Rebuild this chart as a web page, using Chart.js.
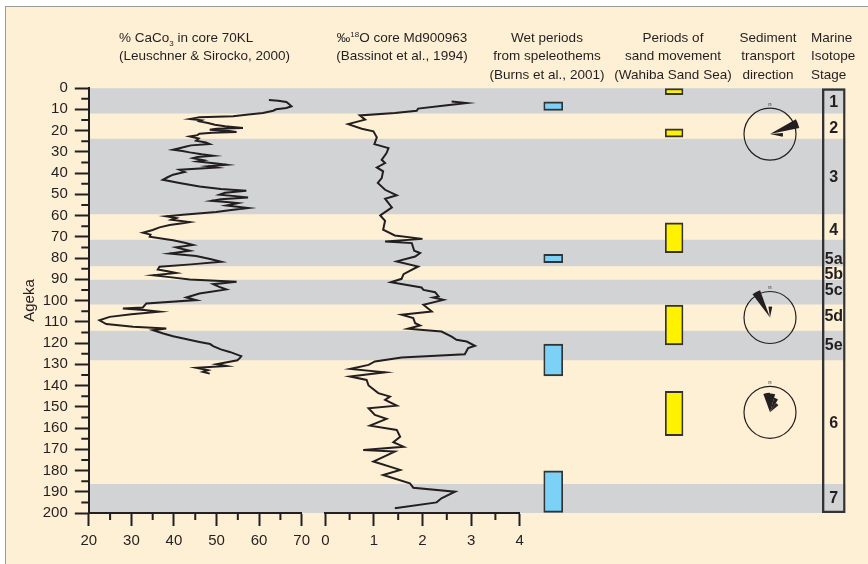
<!DOCTYPE html>
<html>
<head>
<meta charset="utf-8">
<script src="https://cdn.jsdelivr.net/npm/chart.js@4/dist/chart.umd.min.js"></script>
<style>
  html, body { margin: 0; padding: 0; background: #fff; overflow: hidden; }
  #sheet { position: absolute; left: 5px; top: 6px; width: 900px; height: 600px; background: #FEF0D5; border-left: 1px solid #9a9a9a; border-top: 1px solid #9a9a9a; }
  #chart { position: absolute; left: 0; top: 0; }
  .hd { position: absolute; top: 29px; font: 13.5px "Liberation Sans", Arial, sans-serif; line-height: 18.3px; color: #231f20; white-space: nowrap; }
  .c { width: 200px; text-align: center; }
  sub, sup { font-size: 8px; line-height: 0; }
</style>
</head>
<body>
<div id="sheet"></div>
<canvas id="chart" width="868" height="564"></canvas>
<div class="hd" style="left:119px">% CaCo<sub>3</sub> in core 70KL<br>(Leuschner &amp; Sirocko, 2000)</div>
<div class="hd c" style="left:302px">‰<sup>18</sup>O core Md900963<br>(Bassinot et al., 1994)</div>
<div class="hd c" style="left:447px">Wet periods<br>from speleothems<br>(Burns et al., 2001)</div>
<div class="hd c" style="left:573px">Periods of<br>sand movement<br>(Wahiba Sand Sea)</div>
<div class="hd c" style="left:668px">Sediment<br>transport<br>direction</div>
<div class="hd" style="left:811px">Marine<br>Isotope<br>Stage</div>
<script>
var ink = '#231f20';

// % CaCO3 in core 70KL : age (ka) and value
var caAge = [5.7, 6.0, 6.6, 7.5, 8.6, 9.4, 10.0, 10.7, 11.8, 12.5, 13.3, 13.8, 14.3, 14.6, 15.2, 15.7, 16.5, 17.3, 18.0, 18.8,
  19.2, 19.6, 20.2, 20.7, 21.1, 21.5, 22.2, 22.8, 23.8, 24.8, 25.6, 26.4, 27.0, 27.5, 28.2, 29.0, 29.6, 30.3, 31.2, 31.9,
  32.5, 33.0, 34.0, 34.6, 35.5, 36.1, 36.8, 37.4, 38.5, 39.5, 40.8, 42.0, 43.2, 44.7, 46.3, 47.5, 48.4, 49.3, 50.2, 51.0,
  51.5, 52.3, 53.1, 53.8, 54.2, 55.3, 56.5, 57.5, 58.4, 59.7, 60.4, 61.2, 62.0, 63.1, 63.7, 64.5, 65.6, 66.8, 68.1, 69.0,
  70.0, 70.8, 71.6, 72.8, 73.9, 75.0, 75.8, 76.6, 77.9, 79.1, 80.5, 81.8, 83.0, 84.1, 85.4, 86.2, 87.0, 88.1, 89.0, 90.1,
  91.2, 92.3, 93.5, 94.8, 96.7, 98.6, 99.8, 101.4, 103.3, 103.8, 104.5, 105.3, 106.5, 107.7, 109.3, 111.1, 112.4, 113.2, 114.0, 115.5,
  116.8, 118.0, 119.5, 120.5, 121.5, 123.0, 124.2, 126.2, 127.0, 128.1, 130.0, 130.8, 131.7, 132.8, 133.6, 134.4];
var caValue = [62.3, 64.5, 66.4, 67.0, 67.6, 66.4, 64.0, 63.3, 60.9, 57.5, 53.9, 46.0, 44.5, 43.7, 46.5, 46.0, 48.0, 49.6, 52.0, 56.2,
  50.0, 48.4, 53.0, 54.7, 49.0, 46.0, 45.5, 43.7, 45.8, 45.2, 47.5, 48.4, 44.0, 42.9, 41.5, 39.8, 42.0, 43.7, 46.5, 49.2,
  45.5, 44.5, 47.0, 45.5, 50.0, 52.3, 48.0, 49.9, 41.3, 42.5, 39.8, 38.5, 37.4, 41.3, 46.0, 51.0, 57.0, 52.0, 50.7, 55.0,
  57.4, 51.0, 48.8, 53.0, 55.0, 52.3, 57.4, 53.0, 49.9, 42.1, 38.2, 40.5, 39.4, 43.7, 42.0, 39.0, 36.6, 35.0, 32.7, 34.5,
  34.3, 37.0, 39.8, 42.5, 44.5, 40.5, 42.0, 43.7, 39.0, 45.2, 48.5, 51.1, 44.0, 36.6, 36.2, 38.5, 40.5, 35.1, 39.0, 43.7,
  54.7, 49.2, 50.5, 52.3, 46.0, 42.9, 45.2, 33.5, 32.7, 28.0, 33.0, 36.6, 30.0, 24.9, 22.5, 24.1, 30.4, 38.2, 35.1, 37.5,
  39.8, 42.5, 46.0, 48.5, 49.2, 51.0, 53.1, 55.8, 55.5, 54.9, 50.0, 52.3, 45.3, 48.0, 46.8, 48.4];

// per mil 18O core Md900963 : age (ka) and value
var o18Age = [6.3, 7.1, 8.2, 9.7, 10.7, 11.8, 12.9, 14.9, 17.0, 19.2, 20.4, 23.2, 26.4, 28.3, 30.6, 33.8, 35.3, 37.4, 39.2, 42.4,
  44.7, 47.9, 50.5, 52.1, 56.2, 60.0, 62.5, 66.7, 69.4, 71.0, 72.2, 73.0, 76.6, 77.7, 79.3, 81.6, 84.0, 87.6, 89.8, 91.4,
  93.9, 95.0, 96.1, 98.1, 98.6, 99.7, 102.0, 105.2, 106.7, 108.3, 110.7, 111.8, 113.3, 114.6, 117.0, 118.5, 119.3, 121.3, 122.4, 125.3,
  126.8, 128.7, 130.3, 132.2, 133.8, 135.8, 137.4, 140.0, 143.6, 145.2, 146.8, 149.5, 150.7, 153.8, 155.7, 158.9, 160.9, 164.1, 166.7, 168.8,
  170.3, 171.1, 175.8, 179.7, 182.1, 186.0, 188.1, 190.0, 193.1, 195.0, 197.8];
var o18Value = [2.60, 2.91, 2.46, 1.91, 1.88, 1.43, 0.71, 0.82, 0.47, 0.75, 0.99, 1.06, 1.01, 1.30, 1.26, 1.16, 1.23, 1.06, 1.19, 1.16,
  1.08, 1.23, 1.47, 1.23, 1.37, 1.13, 1.23, 1.19, 1.43, 2.00, 1.23, 1.78, 1.83, 1.95, 1.85, 1.47, 1.91, 1.61, 1.57, 1.35,
  1.98, 2.02, 2.26, 2.33, 2.22, 2.43, 2.02, 2.19, 1.57, 1.81, 1.85, 1.95, 1.70, 2.39, 2.60, 2.70, 2.91, 3.08, 2.94, 2.87,
  1.57, 1.02, 0.89, 0.51, 1.23, 0.51, 0.85, 0.89, 1.09, 1.33, 1.23, 1.47, 0.89, 1.02, 1.26, 0.92, 1.47, 1.54, 1.40, 1.61,
  0.78, 1.43, 0.99, 1.54, 1.19, 1.74, 1.81, 2.67, 2.39, 2.29, 1.43];

var ageTicks = [0, 10, 20, 30, 40, 50, 60, 70, 80, 90, 100, 110, 120, 130, 140, 150, 160, 170, 180, 190, 200];
var caTicks = [20, 30, 40, 50, 60, 70];
var o18Ticks = [0, 1, 2, 3, 4];

// grey bands behind the tracks
var bandStart = [0, 24, 71.6, 90.4, 114.4, 186.5];
var bandEnd = [11.8, 59.3, 83.7, 101.7, 128, 200];

// wet periods from speleothems
var wetStart = [6.5, 78.3, 120.5, 180.2];
var wetEnd = [10.6, 82.2, 135.5, 199.7];

// periods of sand movement
var sandStart = [0, 19.2, 63.4, 102.2, 142.7];
var sandEnd = [3.1, 23.1, 77.5, 120.9, 163.6];

// marine isotope stages
var misLabels = ['1', '2', '3', '4', '5a', '5b', '5c', '5d', '5e', '6', '7'];
var misAges = [6.9, 19.3, 42, 67, 80.6, 87.8, 95.5, 107.6, 121.4, 158, 193.4];

// sediment transport roses: age and petals [from deg, to deg, relative length]
var roseAges = [21.7, 108, 152.6];
var rosePetals = [
  [[60, 78, 1.15], [85, 102, 0.5]],
  [[323, 340, 1.12], [352, 372, 0.42]],
  [[-20, 0, 0.75], [0, 16, 0.72], [16, 32, 0.58], [32, 50, 0.42]]
];

function points(xs, ys) {
  return xs.map(function (v, i) { return { x: v, y: ys[i] }; });
}
function colBars(starts, ends) {
  return starts.map(function (s, i) { return { x: 'col', y: [s, ends[i]] }; });
}
function setTicks(list) {
  return function (s) { s.ticks = list.map(function (v) { return { value: v }; }); };
}
function trackAxis(weight, min, max, list) {
  return {
    type: 'linear', axis: 'x', position: 'bottom', stack: 'tracks', stackWeight: weight, min: min, max: max, offset: false,
    afterBuildTicks: setTicks(list),
    afterFit: function (s) { s.height = 40; },
    grid: { drawOnChartArea: false, offset: false, tickLength: 13, tickWidth: 2, tickColor: ink },
    border: { width: 2, color: ink, z: 1 },
    ticks: { padding: 6, color: ink, font: { size: 15 }, maxRotation: 0, autoSkip: false }
  };
}
function gapAxis(weight) {
  return { type: 'linear', axis: 'x', position: 'bottom', stack: 'tracks', stackWeight: weight, display: false };
}
function columnAxis(weight) {
  return { type: 'category', axis: 'x', position: 'bottom', stack: 'tracks', stackWeight: weight, display: false, offset: true, labels: ['col'] };
}

var overlay = {
  id: 'overlay',
  afterDatasetsDraw: function (chart) {
    var ctx = chart.ctx, y = chart.scales.y;
    var rs = chart.scales.xRose, ms = chart.scales.xMis;
    var cx = (rs.left + rs.right) / 2, r = 26;
    ctx.save();
    roseAges.forEach(function (age, i) {
      var cy = y.getPixelForValue(age);
      ctx.beginPath();
      ctx.arc(cx, cy, r, 0, 2 * Math.PI);
      ctx.lineWidth = 1.2;
      ctx.strokeStyle = ink;
      ctx.stroke();
      ctx.fillStyle = ink;
      rosePetals[i].forEach(function (p) {
        ctx.beginPath();
        ctx.moveTo(cx, cy);
        ctx.arc(cx, cy, p[2] * r, (p[0] - 90) * Math.PI / 180, (p[1] - 90) * Math.PI / 180);
        ctx.closePath();
        ctx.fill();
      });
      ctx.font = '6px "Liberation Sans"';
      ctx.textAlign = 'center';
      ctx.textBaseline = 'bottom';
      ctx.fillText('n', cx, cy - r - 1);
    });
    ctx.font = 'bold 16px "Liberation Sans"';
    ctx.textAlign = 'center';
    ctx.textBaseline = 'middle';
    misLabels.forEach(function (t, i) {
      ctx.fillText(t, (ms.left + ms.right) / 2, y.getPixelForValue(misAges[i]));
    });
    ctx.restore();
  },
  afterDraw: function (chart) {
    // short minor ticks half way between the labelled ones
    var ctx = chart.ctx, y = chart.scales.y;
    ctx.save();
    ctx.strokeStyle = ink;
    ctx.lineWidth = 2;
    ctx.beginPath();
    for (var i = 0; i < ageTicks.length - 1; i++) {
      var py = y.getPixelForValue((ageTicks[i] + ageTicks[i + 1]) / 2);
      ctx.moveTo(y.right - 7.5, py);
      ctx.lineTo(y.right, py);
    }
    [['xCa', caTicks], ['xO', o18Ticks]].forEach(function (p) {
      var s = chart.scales[p[0]], t = p[1];
      for (var j = 0; j < t.length - 1; j++) {
        var px = s.getPixelForValue((t[j] + t[j + 1]) / 2);
        ctx.moveTo(px, s.top);
        ctx.lineTo(px, s.top + 7);
      }
    });
    ctx.stroke();
    ctx.restore();
  }
};

Chart.defaults.font.family = '"Liberation Sans", Arial, sans-serif';
Chart.defaults.color = ink;

var barStyle = { barPercentage: 1, categoryPercentage: 1, grouped: false, borderSkipped: false, yAxisID: 'y' };

new Chart(document.getElementById('chart'), {
  type: 'bar',
  data: {
    datasets: [
      Object.assign({ data: colBars(bandStart, bandEnd), xAxisID: 'xBand', backgroundColor: '#D1D3D4', borderWidth: 0, order: 10 }, barStyle),
      { type: 'scatter', data: points(caValue, caAge), xAxisID: 'xCa', yAxisID: 'y', showLine: true, borderColor: ink, borderWidth: 2, pointRadius: 0 },
      { type: 'scatter', data: points(o18Value, o18Age), xAxisID: 'xO', yAxisID: 'y', showLine: true, borderColor: ink, borderWidth: 2, pointRadius: 0 },
      Object.assign({ data: colBars(wetStart, wetEnd), xAxisID: 'xWet', backgroundColor: '#7CD1F6', borderColor: '#333333', borderWidth: 2 }, barStyle),
      Object.assign({ data: colBars(sandStart, sandEnd), xAxisID: 'xSand', backgroundColor: '#FFF200', borderColor: '#333333', borderWidth: 2 }, barStyle),
      Object.assign({ data: colBars([0], [200]), xAxisID: 'xMis', backgroundColor: 'rgba(0,0,0,0)', borderColor: '#333333', borderWidth: 2 }, barStyle)
    ]
  },
  options: {
    responsive: false,
    animation: false,
    events: [],
    layout: { padding: { top: 88, left: 0, right: 22.5, bottom: 11 } },
    plugins: { legend: { display: false }, tooltip: { enabled: false } },
    scales: {
      y: {
        type: 'linear', position: 'left', min: 0, max: 200, reverse: true,
        afterBuildTicks: setTicks(ageTicks),
        afterFit: function (s) { s.width = 88.8; },
        grid: { drawOnChartArea: false, tickLength: 14, tickWidth: 2, tickColor: ink },
        border: { width: 2, color: ink, z: 1 },
        ticks: { padding: 7, color: ink, font: { size: 15 }, autoSkip: false },
        title: { display: true, text: 'Ageka', color: ink, font: { size: 15 }, padding: { top: 21, bottom: 0 } }
      },
      xBand: { type: 'category', axis: 'x', position: 'bottom', display: false, offset: true, labels: ['col'] },
      xCa: trackAxis(212.9, 20, 70, caTicks),
      gapA: gapAxis(23.6),
      xO: trackAxis(194.4, 0, 4, o18Ticks),
      gapB: gapAxis(23.8),
      xWet: columnAxis(19.5),
      gapC: gapAxis(102),
      xSand: columnAxis(18.3),
      gapD: gapAxis(60.7),
      xRose: columnAxis(52),
      gapE: gapAxis(26),
      xMis: columnAxis(23.5)
    }
  },
  plugins: [overlay]
});
</script>
</body>
</html>
